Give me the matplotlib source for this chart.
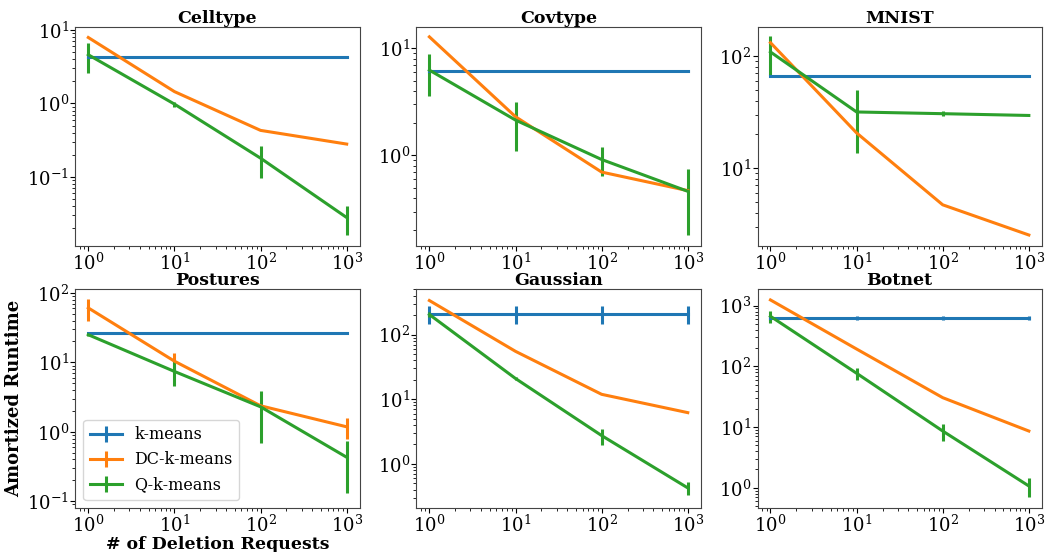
import numpy as np
import matplotlib
matplotlib.use('Agg')
import matplotlib.pyplot as plt

plt.rcParams['font.family'] = 'DejaVu Serif'
plt.rcParams['mathtext.fontset'] = 'dejavuserif'

n_del = [1, 10, 100, 1000]
methods = ['k-means', 'DC-k-means', 'Q-k-means']
titles = ['Celltype', 'Covtype', 'MNIST', 'Postures', 'Gaussian', 'Botnet']

# mean runtime / std per dataset (k-means, DC-k-means, Q-k-means)
celltype_km = [4.25, 4.25, 4.25, 4.25]
celltype_km_err = [0.1, 0.1, 0.1, 0.1]
celltype_dc = [7.9, 1.45, 0.43, 0.28]
celltype_dc_err = [0.0, 0.0, 0.0, 0.0]
celltype_q = [4.6, 0.98, 0.18, 0.028]
celltype_q_err = [2.0, 0.08, 0.083, 0.012]

covtype_km = [6.17, 6.17, 6.17, 6.17]
covtype_km_err = [0.1, 0.1, 0.1, 0.1]
covtype_dc = [12.8, 2.3, 0.70, 0.47]
covtype_dc_err = [0.0, 0.0, 0.0, 0.0]
covtype_q = [6.26, 2.14, 0.917, 0.463]
covtype_q_err = [2.65, 1.03, 0.28, 0.28]

mnist_km = [67, 67, 67, 67]
mnist_km_err = [0.0, 0.0, 0.0, 0.0]
mnist_dc = [132, 20.6, 4.69, 2.52]
mnist_dc_err = [0.0, 0.0, 0.0, 0.0]
mnist_q = [109, 31.7, 30.6, 29.5]
mnist_q_err = [41, 18, 1.5, 0.0]

postures_km = [26.5, 26.5, 26.5, 26.5]
postures_km_err = [0.3, 0.3, 0.3, 0.3]
postures_dc = [60.8, 10.4, 2.37, 1.18]
postures_dc_err = [21, 3.1, 0.0, 0.38]
postures_q = [25, 7.4, 2.29, 0.43]
postures_q_err = [0.8, 2.9, 1.6, 0.3]

gaussian_km = [211, 211, 211, 211]
gaussian_km_err = [67, 67, 67, 67]
gaussian_dc = [336, 55, 11.9, 6.2]
gaussian_dc_err = [0.0, 0.0, 0.0, 0.0]
gaussian_q = [204, 20.9, 2.74, 0.425]
gaussian_q_err = [20, 1.0, 0.78, 0.1]

botnet_km = [627, 627, 627, 627]
botnet_km_err = [40, 40, 40, 40]
botnet_dc = [1242, 193, 30.5, 8.6]
botnet_dc_err = [0.0, 0.0, 0.0, 0.0]
botnet_q = [668, 77, 8.6, 1.07]
botnet_q_err = [155, 17, 2.7, 0.36]

ylims = [(10**-1.94, 10**1.04), (0.143, 15.8), (2.01, 182),
         (10**-1.095, 10**2.058), (0.209, 508), (0.467, 1888)]

series = [
    (celltype_km, celltype_km_err, celltype_dc, celltype_dc_err, celltype_q, celltype_q_err),
    (covtype_km, covtype_km_err, covtype_dc, covtype_dc_err, covtype_q, covtype_q_err),
    (mnist_km, mnist_km_err, mnist_dc, mnist_dc_err, mnist_q, mnist_q_err),
    (postures_km, postures_km_err, postures_dc, postures_dc_err, postures_q, postures_q_err),
    (gaussian_km, gaussian_km_err, gaussian_dc, gaussian_dc_err, gaussian_q, gaussian_q_err),
    (botnet_km, botnet_km_err, botnet_dc, botnet_dc_err, botnet_q, botnet_q_err),
]

fig, axes = plt.subplots(2, 3, figsize=(10.47, 5.52), dpi=100)
fig.subplots_adjust(left=0.072, right=0.995, top=0.951, bottom=0.08,
                    wspace=0.2, hspace=0.196)

for ax, title, s, yl in zip(axes.flat, titles, series, ylims):
    km, km_e, dc, dc_e, q, q_e = s
    ax.errorbar(n_del, km, yerr=km_e, color='C0', lw=2.2, elinewidth=2.2, label=methods[0])
    ax.errorbar(n_del, dc, yerr=dc_e, color='C1', lw=2.2, elinewidth=2.2, label=methods[1])
    ax.errorbar(n_del, q, yerr=q_e, color='C2', lw=2.2, elinewidth=2.2, label=methods[2])
    ax.set_xscale('log')
    ax.set_yscale('log')
    ax.set_ylim(*yl)
    ax.set_title(title, fontsize=12.5, fontweight='bold', pad=3)
    ax.tick_params(which='major', labelsize=13, length=3.5, pad=1.2)
    ax.tick_params(which='minor', length=2)
    for sp in ax.spines.values():
        sp.set_color('#444444')

axes[1, 0].set_xlabel('# of Deletion Requests', fontsize=12.5, fontweight='bold', labelpad=0)
axes[1, 0].set_ylabel('Amortized Runtime', fontsize=13, fontweight='bold', labelpad=3)
axes[1, 0].legend(loc='lower left', fontsize=11.5)

plt.savefig('out.png', dpi=100)
